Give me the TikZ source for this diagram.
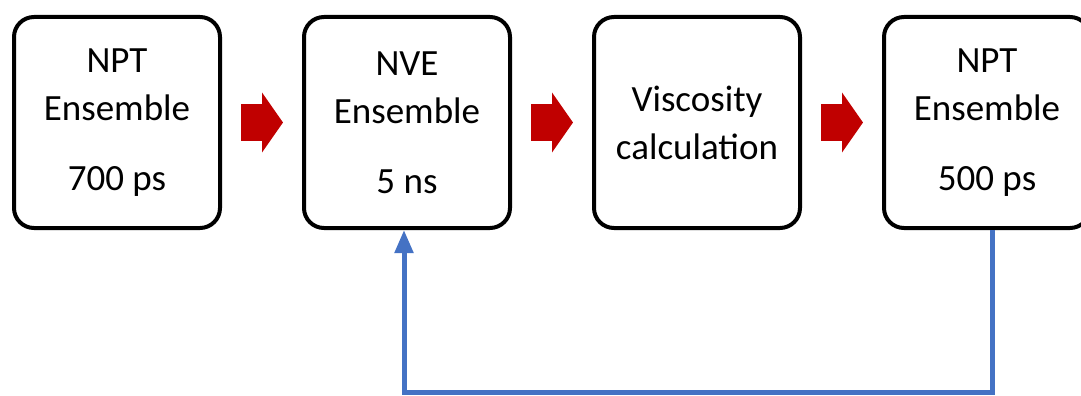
\documentclass[tikz,border=0pt]{standalone}
\usepackage{fontspec}
\setmainfont{Carlito}
\usepackage{tikz}
\usetikzlibrary{arrows.meta,calc}

\definecolor{stepred}{HTML}{C00000}
\definecolor{loopblue}{HTML}{4472C4}

\begin{document}
\begin{tikzpicture}[x=1pt,
            y=1pt,
            node distance=290pt,
            stage/.style={draw,
                          line width=4pt,
                          rounded corners=20pt,
                          outer sep=0pt,
                          minimum width=206pt,
                          minimum height=211pt,
                          align=center,
                          font=\fontsize{37}{48}\selectfont},
            flow/.style={stepred,
                         line width=37pt,
                         -{Triangle[width=59pt,length=21pt]}},
            feedback/.style={loopblue,
                             line width=5pt,
                             shorten <=2pt,
                             shorten >=2pt,
                             -{Triangle[width=18pt,length=23pt]}}]

        \useasboundingbox (0,0) rectangle (1081,-396);

        \node[stage] (npt1) at (117,-122.5)  {NPT\\Ensemble\\[22pt]700 ps};
        \node[stage] (nve)  [right of=npt1]  {NVE\\Ensemble\\[22pt]5 ns};
        \node[stage] (visc) [right of=nve]   {Viscosity\\calculation};
        \node[stage] (npt2) [right of=visc]  {NPT\\Ensemble\\[22pt]500 ps};

        % forward steps
        \draw[flow] ($(npt1.east)+(21,0)$) -- ($(nve.west)+(-21,0)$);
        \draw[flow] ($(nve.east)+(21,0)$)  -- ($(visc.west)+(-21,0)$);
        \draw[flow] ($(visc.east)+(21,0)$) -- ($(npt2.west)+(-21,0)$);

        % back to NVE
        \draw[feedback] ([xshift=5pt]npt2.south) -- ++(0,-164) -| ([xshift=-3pt]nve.south);

    \end{tikzpicture}
\end{document}
